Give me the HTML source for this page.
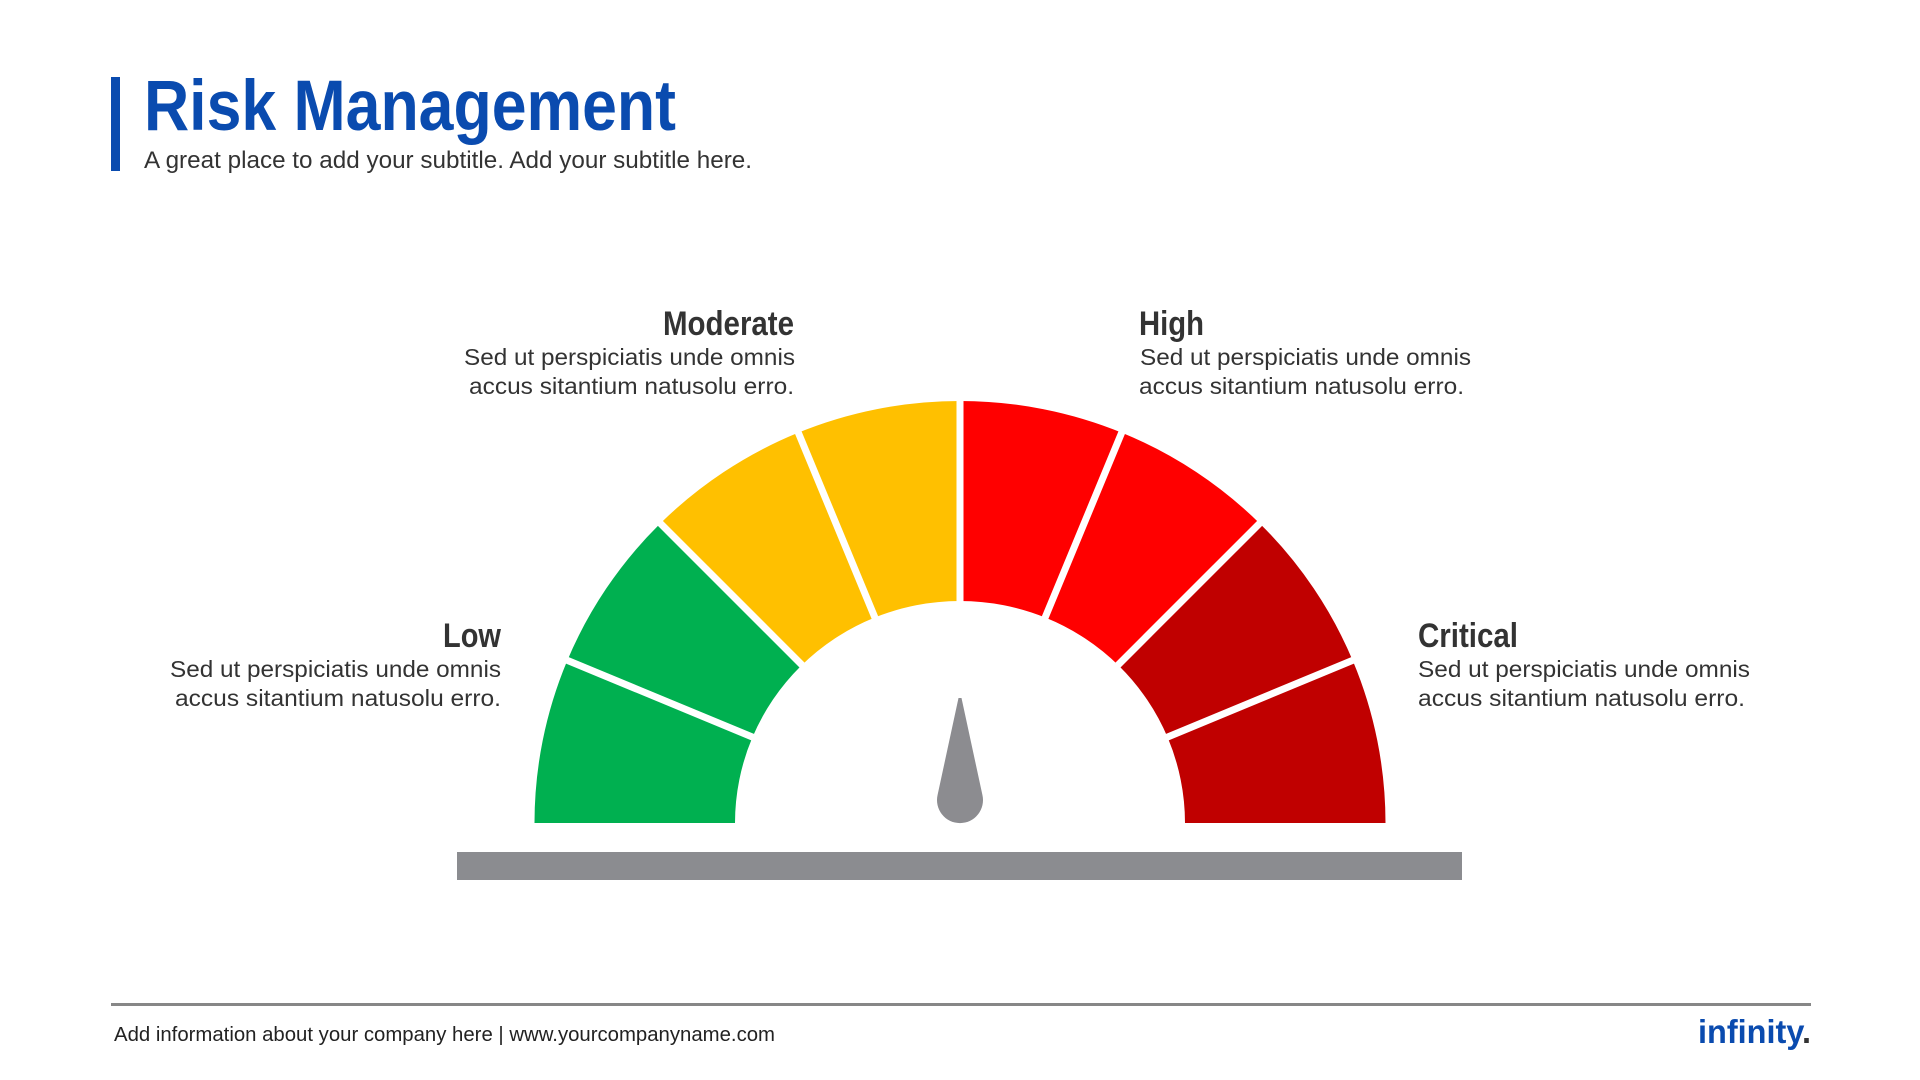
<!DOCTYPE html>
<html>
<head>
<meta charset="utf-8">
<style>
  html, body { margin:0; padding:0; background:#ffffff; }
  body { width:1920px; height:1080px; overflow:hidden; }
  svg { display:block; }
  text { font-family: "Liberation Sans", Arial, sans-serif; }
</style>
</head>
<body>
<svg width="1920" height="1080" viewBox="0 0 1920 1080" xmlns="http://www.w3.org/2000/svg">
  <rect x="0" y="0" width="1920" height="1080" fill="#ffffff"/>

  <!-- Header -->
  <rect x="111" y="77" width="9" height="94" fill="#0A4BAF"/>
  <text x="144" y="130" font-size="71" font-weight="bold" fill="#0A4BAF" textLength="532" lengthAdjust="spacingAndGlyphs">Risk Management</text>
  <text x="144" y="168" font-size="24" fill="#333333" textLength="608" lengthAdjust="spacingAndGlyphs">A great place to add your subtitle. Add your subtitle here.</text>

  <!-- Gauge segments -->
  <path d="M534.5,823 A425.5,422 0 0 1 659.13,524.6 L800.9,666.02 A225,222 0 0 0 735,823 Z" fill="#00B050"/>
  <path d="M659.13,524.6 A425.5,422 0 0 1 960,401 L960,601 A225,222 0 0 0 800.9,666.02 Z" fill="#FFC000"/>
  <path d="M960,401 A425.5,422 0 0 1 1260.87,524.6 L1119.1,666.02 A225,222 0 0 0 960,601 Z" fill="#FF0000"/>
  <path d="M1260.87,524.6 A425.5,422 0 0 1 1385.5,823 L1185,823 A225,222 0 0 0 1119.1,666.02 Z" fill="#C00000"/>

  <!-- White dividers -->
  <g stroke="#ffffff" stroke-width="7" stroke-linecap="butt">
    <line x1="761.37" y1="740.72" x2="553.49" y2="654.62"/>
    <line x1="807.97" y1="670.97" x2="648.87" y2="511.87"/>
    <line x1="877.72" y1="624.37" x2="791.62" y2="416.49"/>
    <line x1="960" y1="608" x2="960" y2="383"/>
    <line x1="1042.28" y1="624.37" x2="1128.38" y2="416.49"/>
    <line x1="1112.03" y1="670.97" x2="1271.13" y2="511.87"/>
    <line x1="1158.63" y1="740.72" x2="1366.51" y2="654.62"/>
  </g>

  <!-- Needle -->
  <path d="M958.5,698 L937.6,794.9 A23,23 0 1 0 982.4,794.9 L961.5,698 Z" fill="#8C8C90"/>

  <!-- Base bar -->
  <rect x="457" y="852" width="1005" height="28" fill="#8B8C90"/>

  <!-- Labels -->
  <g fill="#333333">
    <text x="794" y="335" font-size="34" font-weight="bold" text-anchor="end" textLength="131" lengthAdjust="spacingAndGlyphs">Moderate</text>
    <text x="795" y="365" font-size="23" text-anchor="end" textLength="331" lengthAdjust="spacingAndGlyphs">Sed ut perspiciatis unde omnis</text>
    <text x="794" y="394" font-size="23" text-anchor="end" textLength="325" lengthAdjust="spacingAndGlyphs">accus sitantium natusolu erro.</text>

    <text x="1139" y="335" font-size="34" font-weight="bold" textLength="65" lengthAdjust="spacingAndGlyphs">High</text>
    <text x="1140" y="365" font-size="23" textLength="331" lengthAdjust="spacingAndGlyphs">Sed ut perspiciatis unde omnis</text>
    <text x="1139" y="394" font-size="23" textLength="325" lengthAdjust="spacingAndGlyphs">accus sitantium natusolu erro.</text>

    <text x="501" y="647" font-size="34" font-weight="bold" text-anchor="end" textLength="58" lengthAdjust="spacingAndGlyphs">Low</text>
    <text x="501" y="677" font-size="23" text-anchor="end" textLength="331" lengthAdjust="spacingAndGlyphs">Sed ut perspiciatis unde omnis</text>
    <text x="501" y="706" font-size="23" text-anchor="end" textLength="326" lengthAdjust="spacingAndGlyphs">accus sitantium natusolu erro.</text>

    <text x="1418" y="647" font-size="34" font-weight="bold" textLength="100" lengthAdjust="spacingAndGlyphs">Critical</text>
    <text x="1418" y="677" font-size="23" textLength="332" lengthAdjust="spacingAndGlyphs">Sed ut perspiciatis unde omnis</text>
    <text x="1418" y="706" font-size="23" textLength="327" lengthAdjust="spacingAndGlyphs">accus sitantium natusolu erro.</text>
  </g>

  <!-- Footer -->
  <rect x="111" y="1003" width="1700" height="3" fill="#878787"/>
  <text x="114" y="1041" font-size="20" fill="#222222" textLength="661" lengthAdjust="spacingAndGlyphs">Add information about your company here | www.yourcompanyname.com</text>
  <text x="1698" y="1043" font-size="33" font-weight="bold" fill="#0A4BAF" textLength="113" lengthAdjust="spacingAndGlyphs">infinity<tspan fill="#333333">.</tspan></text>
</svg>
</body>
</html>
